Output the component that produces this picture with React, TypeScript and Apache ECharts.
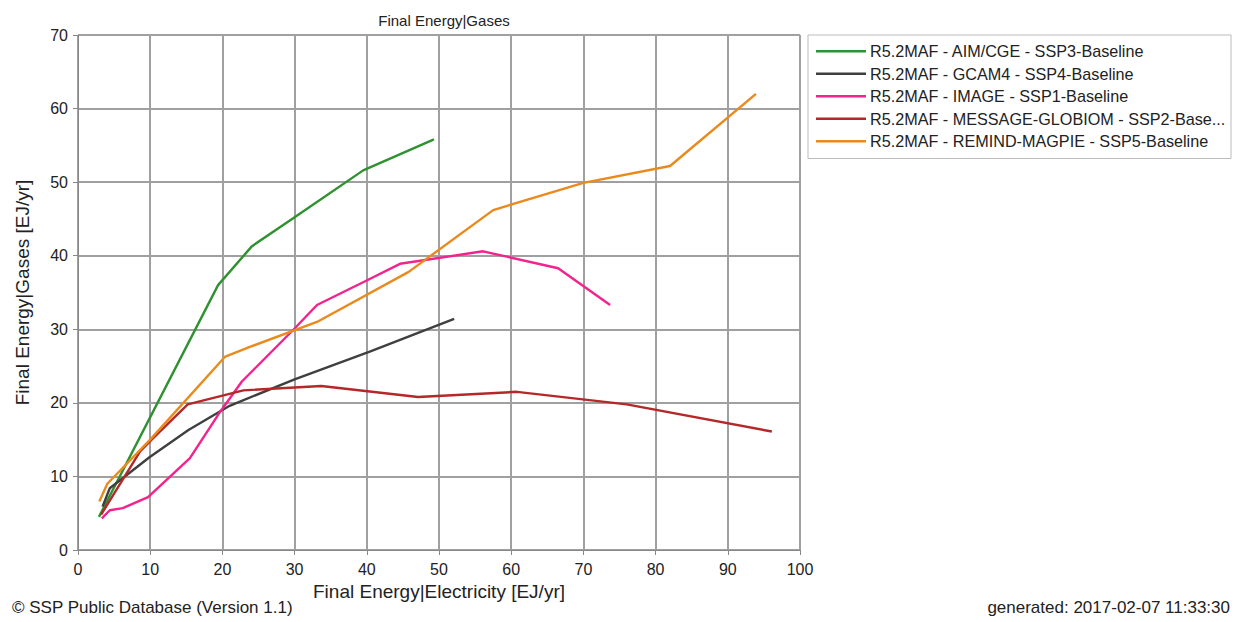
import React, { useEffect, useRef } from "react";
import * as echarts from "echarts";

const seriesNames = [
  "R5.2MAF - AIM/CGE - SSP3-Baseline",
  "R5.2MAF - GCAM4 - SSP4-Baseline",
  "R5.2MAF - IMAGE - SSP1-Baseline",
  "R5.2MAF - MESSAGE-GLOBIOM - SSP2-Baseline",
  "R5.2MAF - REMIND-MAGPIE - SSP5-Baseline",
];
const seriesColors = ["#2f9130", "#3f3f3f", "#f2238c", "#b5282a", "#ea8a1c"];

const aimCge = [
  [2.9, 4.5], [19.4, 36.0], [24.1, 41.3], [29.8, 45.1], [39.5, 51.6], [49.3, 55.8],
];
const gcam4 = [
  [3.4, 5.9], [4.4, 8.4], [9.9, 12.6], [15.3, 16.3], [21.0, 19.6], [30.0, 23.2], [40.5, 27.0], [52.1, 31.4],
];
const image = [
  [3.3, 4.3], [4.4, 5.4], [6.2, 5.7], [9.7, 7.2], [15.5, 12.5], [19.7, 18.8], [22.7, 22.9], [29.8, 29.9],
  [33.1, 33.3], [39.7, 36.5], [44.6, 38.9], [56.1, 40.6], [66.5, 38.3], [73.7, 33.3],
];
const messageGlobiom = [
  [3.2, 4.8], [8.6, 13.4], [10.2, 15.0], [15.2, 19.8], [22.9, 21.7], [33.7, 22.3], [47.1, 20.8],
  [60.8, 21.5], [76.0, 19.8], [96.1, 16.1],
];
const remindMagpie = [
  [2.95, 6.6], [4.06, 9.0], [10.0, 15.0], [20.4, 26.3], [23.8, 27.6], [33.1, 31.0], [45.8, 37.8],
  [57.5, 46.2], [70.0, 49.9], [82.0, 52.2], [93.9, 62.0],
];
const allData = [aimCge, gcam4, image, messageGlobiom, remindMagpie];

const FONT = "Liberation Sans, Arial, sans-serif";

export default function App() {
  const ref = useRef<HTMLDivElement>(null);
  useEffect(() => {
    if (!ref.current) return;
    const chart = echarts.init(ref.current, null, { renderer: "svg" });
    chart.setOption({
      animation: false,
      backgroundColor: "#ffffff",
      textStyle: { fontFamily: FONT },
      title: {
        text: "Final Energy|Gases",
        left: 439,
        textAlign: "center",
        top: 8,
        textStyle: { fontSize: 15, fontWeight: "normal", color: "#222", fontFamily: FONT },
      },
      grid: { left: 78, right: 434, top: 35, bottom: 72 },
      legend: {
        orient: "vertical",
        left: 808,
        top: 35,
        padding: [7, 4, 8, 8],
        icon: "rect",
        itemWidth: 50,
        itemHeight: 2.5,
        itemGap: 4,
        borderColor: "#bbbbbb",
        borderWidth: 1,
        data: seriesNames,
        textStyle: {
          fontSize: 16.2,
          lineHeight: 18.5,
          color: "#222",
          fontFamily: FONT,
          width: 357,
          overflow: "truncate",
          ellipsis: "...",
          padding: [0, 0, 0, -1],
        },
      },
      xAxis: {
        type: "value",
        min: 0,
        max: 100,
        interval: 10,
        name: "Final Energy|Electricity [EJ/yr]",
        nameLocation: "middle",
        nameGap: 29,
        nameTextStyle: { fontSize: 19, color: "#222", fontFamily: FONT },
        axisLine: { show: true, lineStyle: { color: "#888", width: 1 } },
        axisTick: { show: true, length: 5, lineStyle: { color: "#888" } },
        axisLabel: { fontSize: 16, color: "#222", margin: 11, fontFamily: FONT },
        splitLine: { show: true, lineStyle: { color: "#a0a0a0", width: 2 } },
      },
      yAxis: {
        type: "value",
        min: 0,
        max: 70,
        interval: 10,
        name: "Final Energy|Gases [EJ/yr]",
        nameLocation: "middle",
        nameGap: 46,
        nameTextStyle: { fontSize: 19, color: "#222", fontFamily: FONT },
        axisLine: { show: true, lineStyle: { color: "#888", width: 1 } },
        axisTick: { show: true, length: 5, lineStyle: { color: "#888" } },
        axisLabel: { fontSize: 16, color: "#222", margin: 10, fontFamily: FONT },
        splitLine: { show: true, lineStyle: { color: "#a0a0a0", width: 2 } },
      },
      series: seriesNames.map((name, i) => ({
        name,
        type: "line",
        data: allData[i],
        symbol: "none",
        color: seriesColors[i],
        lineStyle: { width: 2.4, color: seriesColors[i] },
        z: 3,
      })),
      graphic: [
        {
          type: "text",
          left: 12,
          top: 599,
          style: { text: "© SSP Public Database (Version 1.1)", fontSize: 17, fill: "#222", fontFamily: FONT },
        },
        {
          type: "text",
          right: 4,
          top: 599,
          style: { text: "generated: 2017-02-07 11:33:30", fontSize: 17, fill: "#222", fontFamily: FONT },
        },
      ],
    });
    return () => chart.dispose();
  }, []);
  return <div ref={ref} style={{ width: 1234, height: 622, position: "absolute", left: 0, top: 0 }} />;
}
